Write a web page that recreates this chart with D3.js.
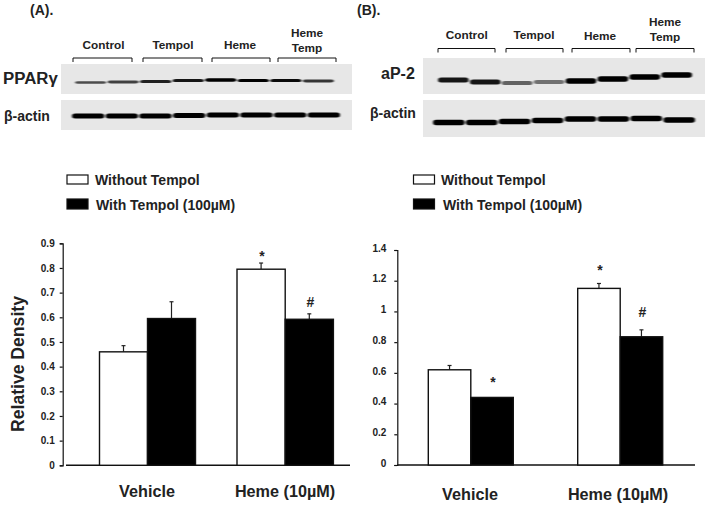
<!DOCTYPE html>
<html><head><meta charset="utf-8">
<script src="https://cdn.jsdelivr.net/npm/d3@7/dist/d3.min.js"></script>
<style>html,body{margin:0;background:#fff}svg{display:block}text{font-family:"Liberation Sans",Arial,sans-serif;font-weight:bold;fill:#222}</style>
</head><body><svg id="c" width="709" height="507"></svg>
<script>
const groups = ["Vehicle", "Heme (10µM)"];
const seriesNames = ["Without Tempol", "With Tempol (100µM)"];
const valuesA = [[0.46, 0.595], [0.795, 0.592]];
const errorsA = [[0.025, 0.068], [0.025, 0.022]];
const marksA = [["", ""], ["*", "#"]];
const ticksA = [0, 0.1, 0.2, 0.3, 0.4, 0.5, 0.6, 0.7, 0.8, 0.9];
const valuesB = [[0.62, 0.44], [1.15, 0.835]];
const errorsB = [[0.028, 0], [0.032, 0.045]];
const marksB = [["", "*"], ["*", "#"]];
const ticksB = [0, 0.2, 0.4, 0.6, 0.8, 1, 1.2, 1.4];
const blotGroups = ["Control", "Tempol", "Heme", "Heme|Temp"];
const bandsPPAR = [0.55, 0.6, 0.75, 0.8, 0.95, 0.9, 0.85, 0.65];
const bandsActinA = [1, 1, 1, 1, 1, 1, 1, 1];
const bandsAP2 = [0.8, 0.8, 0.45, 0.38, 1, 1, 1, 1];
const bandsActinB = [1, 1, 1, 1, 0.92, 0.92, 1, 0.95];

const svg = d3.select("#c");
const defs = svg.append("defs");
defs.append("filter").attr("id","blur").attr("x","-10%").attr("y","-100%").attr("width","120%").attr("height","300%")
  .append("feGaussianBlur").attr("stdDeviation","1.3 0.6");

function barPanel(o){
  const g = svg.append("g");
  const y = d3.scaleLinear().domain([0,o.max]).range([o.y0,o.yTop]);
  const xOuter = d3.scaleOrdinal().domain(groups).range(o.groupLefts);
  g.append("g").attr("transform",`translate(${o.axisX},0)`)
    .call(d3.axisLeft(y).tickValues(o.ticks).tickSize(3).tickFormat(d=>String(d)))
    .call(s=>{s.selectAll("text").attr("font-size",o.tickSize).attr("dx",o.tickDx).attr("dy",o.tickDy);
      s.selectAll("line,path").attr("stroke","#111").attr("stroke-width",1.2);});
  g.append("line").attr("x1",o.baseFrom).attr("x2",o.baseTo).attr("y1",o.y0).attr("y2",o.y0).attr("stroke","#111").attr("stroke-width",1.4);
  groups.forEach((name,i)=>{
    const left = xOuter(name);
    o.values[i].forEach((v,j)=>{
      const x0 = left + j*o.barW[i];
      const cx = x0 + o.barW[i]/2;
      if(o.errors[i][j]>0){
        g.append("line").attr("x1",cx).attr("x2",cx).attr("y1",y(v)).attr("y2",y(v+o.errors[i][j])).attr("stroke","#222").attr("stroke-width",1.2);
        g.append("line").attr("x1",cx-2).attr("x2",cx+2).attr("y1",y(v+o.errors[i][j])).attr("y2",y(v+o.errors[i][j])).attr("stroke","#222").attr("stroke-width",1.2);
      }
      g.append("rect").attr("x",x0).attr("y",y(v)).attr("width",o.barW[i]).attr("height",y(0)-y(v))
        .attr("fill",j?"#000":"#fff").attr("stroke","#111").attr("stroke-width",1.4);
      if(o.marks[i][j]) g.append("text").attr("x",cx+1).attr("y",y(v+o.errors[i][j])-o.markGap[i][j])
        .attr("text-anchor","middle").attr("font-size",14).text(o.marks[i][j]);
    });
    g.append("text").attr("x",o.labelX[i]).attr("y",o.labelY).attr("text-anchor","middle").attr("font-size",16.2).text(name);
  });
}
barPanel({values:valuesA,errors:errorsA,marks:marksA,ticks:ticksA,max:0.9,y0:465.3,yTop:243.3,axisX:62.7,
  groupLefts:[99.5,237],barW:[48,48.2],baseFrom:66,baseTo:350,tickSize:10,tickDx:-2,tickDy:"0.32em",labelX:[147,285],labelY:497,
  markGap:[[0,0],[2,7]]});
barPanel({values:valuesB,errors:errorsB,marks:marksB,ticks:ticksB,max:1.4,y0:465,yTop:250,axisX:397.3,
  groupLefts:[428.3,577.7],barW:[42.5,42.5],baseFrom:397.3,baseTo:695,tickSize:10,tickDx:-5,tickDy:"0.12em",labelX:[470,618],labelY:499.5,
  markGap:[[0,10],[8,13]]});

svg.append("text").attr("transform","translate(24,432) rotate(-90)").attr("font-size",17.6).text("Relative Density");

function legend(x,rows,w){
  rows.forEach((d,i)=>{
    svg.append("rect").attr("x",x).attr("y",d.y).attr("width",w).attr("height",d.h).attr("fill",i?"#000":"#fff").attr("stroke","#111").attr("stroke-width",1.2);
    svg.append("text").attr("x",d.tx).attr("y",d.ty).attr("font-size",14).text(seriesNames[i]);
  });
}
legend(67,[{y:175,h:9,tx:95,ty:184.5},{y:199,h:10,tx:96,ty:210}],21);
legend(413.5,[{y:175,h:9,tx:441,ty:184.5},{y:199,h:10,tx:443,ty:210}],21);

function blot(o){
  svg.append("rect").attr("x",o.x).attr("y",o.y).attr("width",o.w).attr("height",o.h).attr("fill","#e7e7e7");
  const band = d3.scaleBand().domain(d3.range(o.bands.length)).range([o.x0,o.x1]).paddingInner(0.04);
  svg.append("g").attr("filter","url(#blur)").selectAll("rect").data(o.bands).join("rect")
    .attr("x",(d,i)=>band(i)).attr("width",band.bandwidth())
    .attr("y",(d,i)=>o.cy+o.tilt[i]-(o.th*(0.55+0.45*d))/2)
    .attr("height",d=>o.th*(0.55+0.45*d)).attr("rx",3)
    .attr("fill","#000").attr("opacity",d=>Math.min(1,0.15+d*0.95));
  svg.append("text").attr("x",o.labelX).attr("y",o.labelY).attr("font-size",o.labelSize).text(o.label);
}
blot({x:61,y:64,w:291,h:30,x0:75,x1:334,bands:bandsPPAR,cy:81,th:3.4,tilt:[1.5,1,0.5,-0.5,-1,-0.5,-0.5,0],label:"PPARγ",labelX:3,labelY:84,labelSize:16.8});
blot({x:61,y:100,w:291,h:30,x0:72,x1:340,bands:bandsActinA,cy:115.5,th:5,tilt:[0.5,0.5,0.5,0,-0.5,-0.5,-0.5,-0.5],label:"β-actin",labelX:4,labelY:121,labelSize:14});
blot({x:423,y:58,w:282,h:36,x0:438,x1:692,bands:bandsAP2,cy:78,th:5.5,tilt:[2,4,5,4,3,1,-1,-3],label:"aP-2",labelX:381,labelY:79,labelSize:16});
blot({x:423,y:100,w:282,h:37,x0:433,x1:695,bands:bandsActinB,cy:120.5,th:5.5,tilt:[2,2,1,0,-1.5,-1.5,-2,-0.5],label:"β-actin",labelX:370,labelY:118,labelSize:14});

function blotHeader(spans,topY,labels,fontSize){
  blotGroups.forEach((name,i)=>{
    const [a,b]=spans[i];
    svg.append("path").attr("d",d3.line()([[a,topY+4],[a,topY],[b,topY],[b,topY+4]])).attr("fill","none").attr("stroke","#111").attr("stroke-width",1);
    name.split("|").forEach((t,k)=>svg.append("text").attr("x",labels[i][0]).attr("y",labels[i][1]+k*15).attr("text-anchor","middle").attr("font-size",fontSize).text(t));
  });
}
blotHeader([[73,132],[143,202],[212,270],[278,336]],58,[[103.5,48.5],[173,48.5],[240,49],[307,36.5]],11.8);
blotHeader([[438,495],[506,563],[572,630],[636,694]],48.5,[[466.7,38.5],[534,38.5],[600,39.5],[665,26]],11.8);

svg.append("text").attr("x",30).attr("y",15).attr("font-size",14).text("(A).");
svg.append("text").attr("x",357).attr("y",14.5).attr("font-size",14).text("(B).");
</script></body></html>
